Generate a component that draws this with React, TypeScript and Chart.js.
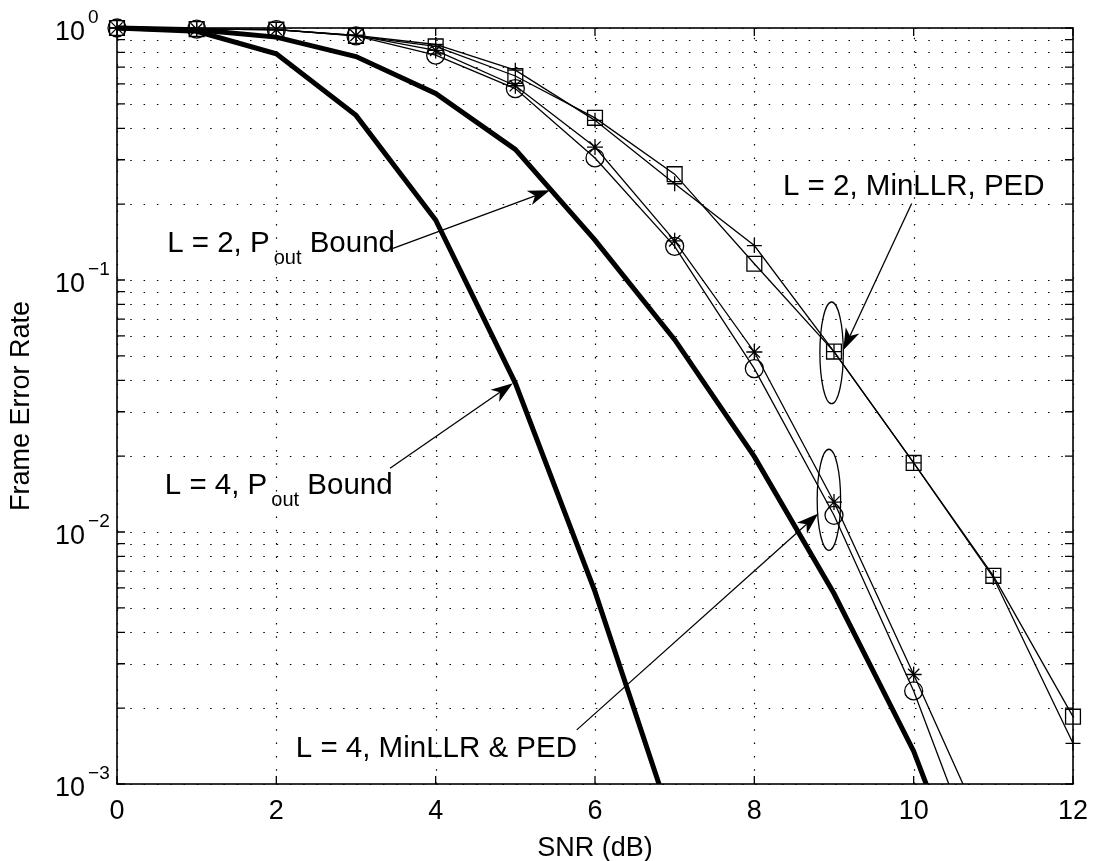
import React, { useEffect, useRef } from "react";
import { Chart, registerables } from "chart.js";

Chart.register(...registerables);

// ---------- data ----------
const snrDb = [0, 1, 2, 3, 4, 5, 6, 7, 8, 9, 10, 11, 12];

const boundL2 = [1, 0.985, 0.92, 0.77, 0.55, 0.33, 0.144, 0.058, 0.0199, 0.0057, 0.00135, 0.0002];
const boundL4 = [1, 0.97, 0.79, 0.45, 0.173, 0.039, 0.0058, 0.00065];

const l2Square = [1, 0.99, 0.985, 0.93, 0.845, 0.645, 0.44, 0.263, 0.116, 0.052, 0.0188, 0.0067, 0.00185];
const l2Plus = [1, 0.99, 0.985, 0.935, 0.86, 0.68, 0.43, 0.241, 0.137, 0.052, 0.0188, 0.0066, 0.00145];
const l4Star = [1, 0.99, 0.985, 0.935, 0.815, 0.59, 0.337, 0.143, 0.0518, 0.01315, 0.00272, 0.00054];
const l4Circle = [1, 0.99, 0.985, 0.93, 0.78, 0.575, 0.305, 0.136, 0.0445, 0.01165, 0.00234, 0.00034];

const xTickValues = [0, 2, 4, 6, 8, 10, 12];
const yDecadeExponents = [0, -1, -2, -3];
const yMinorMultipliers = [2, 3, 4, 5, 6, 7, 8, 9];

const xAxisTitle = "SNR (dB)";
const yAxisTitle = "Frame Error Rate";

// annotations (data coordinates)
const annoLabels = [
  { main: "L = 2, P", sub: "out", tail: " Bound", x: 0.63, y: 0.129, align: "left" },
  { main: "L = 4, P", sub: "out", tail: " Bound", x: 0.6, y: 0.0141, align: "left" },
  { main: "L = 2, MinLLR, PED", sub: "", tail: "", x: 8.36, y: 0.217, align: "left" },
  { main: "L = 4, MinLLR & PED", sub: "", tail: "", x: 5.774, y: 0.00128, align: "right" },
];
const annoArrows = [
  { x0: 3.464, y0: 0.1336, x1: 5.435, y1: 0.227 },
  { x0: 3.427, y0: 0.0179, x1: 4.97, y1: 0.0389 },
  { x0: 9.975, y0: 0.201, x1: 9.116, y1: 0.0526 },
  { x0: 5.771, y0: 0.00164, x1: 8.803, y1: 0.01183 },
];
const annoEllipses = [
  { x: 8.97, halfWidth: 0.147, top: 0.0818, bottom: 0.0323 },
  { x: 8.936, halfWidth: 0.147, top: 0.0213, bottom: 0.00846 },
];

const FONT = '"Liberation Sans", Arial, Helvetica, sans-serif';

function yGridValues(): number[] {
  const out: number[] = [];
  for (const e of yDecadeExponents) {
    if (e < 0) {
      for (const m of yMinorMultipliers) out.push(m * Math.pow(10, e));
    }
    out.push(Math.pow(10, e));
  }
  return out;
}

function drawArrow(ctx: CanvasRenderingContext2D, x0: number, y0: number, x1: number, y1: number) {
  const dx = x1 - x0, dy = y1 - y0;
  const len = Math.hypot(dx, dy);
  const ux = dx / len, uy = dy / len;
  const nx = -uy, ny = ux;
  const L = 22, W = 15;
  const bx = x1 - ux * L, by = y1 - uy * L;
  const notchX = x1 - ux * L * 0.72, notchY = y1 - uy * L * 0.72;
  ctx.beginPath();
  ctx.moveTo(x0, y0);
  ctx.lineTo(notchX, notchY);
  ctx.lineWidth = 1.3;
  ctx.stroke();
  ctx.beginPath();
  ctx.moveTo(x1, y1);
  ctx.lineTo(bx + nx * W / 2, by + ny * W / 2);
  ctx.lineTo(notchX, notchY);
  ctx.lineTo(bx - nx * W / 2, by - ny * W / 2);
  ctx.closePath();
  ctx.fill();
}

const decorPlugin = {
  id: "matlabDecor",
  beforeDatasetsDraw(chart: any) {
    const { ctx, chartArea: a, scales } = chart;
    const xs = scales.x, ys = scales.y;
    ctx.save();
    ctx.strokeStyle = "#000";
    ctx.lineWidth = 1.2;
    ctx.setLineDash([1.5, 11.8]);
    for (const v of xTickValues) {
      const px = Math.round(xs.getPixelForValue(v)) + 0.5;
      ctx.beginPath();
      ctx.moveTo(px, a.bottom);
      ctx.lineTo(px, a.top);
      ctx.stroke();
    }
    for (const v of yGridValues()) {
      const py = Math.round(ys.getPixelForValue(v)) + 0.5;
      ctx.beginPath();
      ctx.moveTo(a.left, py);
      ctx.lineTo(a.right, py);
      ctx.stroke();
    }
    ctx.restore();
  },
  afterDraw(chart: any) {
    const { ctx, chartArea: a, scales } = chart;
    const xs = scales.x, ys = scales.y;
    ctx.save();
    ctx.strokeStyle = "#000";
    ctx.fillStyle = "#000";
    ctx.setLineDash([]);

    // axis box
    ctx.lineWidth = 1.6;
    ctx.strokeRect(a.left, a.top, a.right - a.left, a.bottom - a.top);

    // inside ticks
    ctx.lineWidth = 1.3;
    const T = 8;
    for (const v of xTickValues) {
      const px = xs.getPixelForValue(v);
      ctx.beginPath();
      ctx.moveTo(px, a.bottom); ctx.lineTo(px, a.bottom - T);
      ctx.moveTo(px, a.top); ctx.lineTo(px, a.top + T);
      ctx.stroke();
    }
    for (const v of yGridValues()) {
      const py = ys.getPixelForValue(v);
      ctx.beginPath();
      ctx.moveTo(a.left, py); ctx.lineTo(a.left + T, py);
      ctx.moveTo(a.right, py); ctx.lineTo(a.right - T, py);
      ctx.stroke();
    }

    // x tick labels
    ctx.font = `27px ${FONT}`;
    ctx.textAlign = "center";
    ctx.textBaseline = "alphabetic";
    for (const v of xTickValues) {
      ctx.fillText(String(v), xs.getPixelForValue(v), a.bottom + 35);
    }
    // y tick labels 10^e
    for (const e of yDecadeExponents) {
      const py = ys.getPixelForValue(Math.pow(10, e));
      ctx.font = `27px ${FONT}`;
      ctx.textAlign = "left";
      const baseX = a.left - 62;
      ctx.fillText("10", baseX, py + 11.5);
      const w = ctx.measureText("10").width;
      ctx.font = `19px ${FONT}`;
      ctx.fillText(e === 0 ? "0" : "\u2212" + String(-e), baseX + w + 3, py - 5);
    }

    // axis titles
    ctx.font = `27px ${FONT}`;
    ctx.textAlign = "center";
    ctx.fillText(xAxisTitle, (a.left + a.right) / 2, a.bottom + 72);
    ctx.save();
    ctx.translate(22, (a.top + a.bottom) / 2);
    ctx.rotate(-Math.PI / 2);
    ctx.textBaseline = "middle";
    ctx.fillText(yAxisTitle, 0, 0);
    ctx.restore();

    // ellipses
    ctx.lineWidth = 1.3;
    for (const el of annoEllipses) {
      const cx = xs.getPixelForValue(el.x);
      const rx = xs.getPixelForValue(el.x + el.halfWidth) - cx;
      const yt = ys.getPixelForValue(el.top);
      const yb = ys.getPixelForValue(el.bottom);
      ctx.beginPath();
      ctx.ellipse(cx, (yt + yb) / 2, rx, (yb - yt) / 2, 0, 0, Math.PI * 2);
      ctx.stroke();
    }

    // arrows
    for (const ar of annoArrows) {
      drawArrow(
        ctx,
        xs.getPixelForValue(ar.x0), ys.getPixelForValue(ar.y0),
        xs.getPixelForValue(ar.x1), ys.getPixelForValue(ar.y1)
      );
    }

    // labels
    ctx.textBaseline = "alphabetic";
    ctx.textAlign = "left";
    for (const lb of annoLabels) {
      const mainFont = `29.5px ${FONT}`;
      const subFont = `20px ${FONT}`;
      ctx.font = mainFont;
      const wMain = ctx.measureText(lb.main).width;
      const wTail = ctx.measureText(lb.tail).width;
      ctx.font = subFont;
      const wSub = lb.sub ? ctx.measureText(lb.sub).width + 4 : 0;
      const total = wMain + wSub + wTail;
      let px = xs.getPixelForValue(lb.x);
      if (lb.align === "right") px -= total;
      const py = ys.getPixelForValue(lb.y);
      ctx.font = mainFont;
      ctx.fillText(lb.main, px, py);
      if (lb.sub) {
        ctx.font = subFont;
        ctx.fillText(lb.sub, px + wMain + 4, py + 12);
      }
      if (lb.tail) {
        ctx.font = mainFont;
        ctx.fillText(lb.tail, px + wMain + wSub, py);
      }
    }
    ctx.restore();
  },
};

function pts(arr: number[]) {
  return arr.map((v, i) => ({ x: snrDb[i], y: v }));
}

const clipArea = { left: 20, top: 20, right: 20, bottom: 0 };

export default function App() {
  const ref = useRef<HTMLCanvasElement | null>(null);
  useEffect(() => {
    if (!ref.current) return;
    const thin = {
      borderColor: "#000",
      borderWidth: 1.3,
      pointBorderColor: "#000",
      pointBackgroundColor: "rgba(0,0,0,0)",
      pointBorderWidth: 1.3,
      tension: 0,
      clip: clipArea,
    };
    const chart = new Chart(ref.current, {
      type: "line",
      data: {
        datasets: [
          { ...thin, label: "L = 2 (square)", data: pts(l2Square), pointStyle: "rect", pointRadius: 10.5 },
          { ...thin, label: "L = 2 (plus)", data: pts(l2Plus), pointStyle: "cross", pointRadius: 7.5 },
          { ...thin, label: "L = 4 (star)", data: pts(l4Star), pointStyle: "star", pointRadius: 8 },
          { ...thin, label: "L = 4 (circle)", data: pts(l4Circle), pointStyle: "circle", pointRadius: 9 },
          { label: "L = 2, Pout Bound", data: pts(boundL2), borderColor: "#000", borderWidth: 5, pointRadius: 0, tension: 0, clip: clipArea, borderJoinStyle: "miter" },
          { label: "L = 4, Pout Bound", data: pts(boundL4), borderColor: "#000", borderWidth: 5, pointRadius: 0, tension: 0, clip: clipArea, borderJoinStyle: "miter" },
        ],
      } as any,
      options: {
        animation: false,
        responsive: false,
        devicePixelRatio: 1,
        layout: { padding: { left: 117, right: 23, top: 28, bottom: 77 } },
        plugins: { legend: { display: false }, tooltip: { enabled: false } },
        scales: {
          x: {
            type: "linear",
            min: 0,
            max: 12,
            ticks: { display: false, stepSize: 2 },
            grid: { display: false, drawTicks: false },
            border: { display: false },
            afterFit: (s: any) => { s.height = 0; },
          },
          y: {
            type: "logarithmic",
            min: 0.001,
            max: 1,
            ticks: { display: false },
            grid: { display: false, drawTicks: false },
            border: { display: false },
            afterFit: (s: any) => { s.width = 0; },
          },
        },
      } as any,
      plugins: [decorPlugin],
    });
    return () => chart.destroy();
  }, []);
  return (
    <div style={{ position: "fixed", left: 0, top: 0, width: 1096, height: 861, background: "#fff" }}>
      <canvas ref={ref} width={1096} height={861} style={{ display: "block" }} />
    </div>
  );
}
